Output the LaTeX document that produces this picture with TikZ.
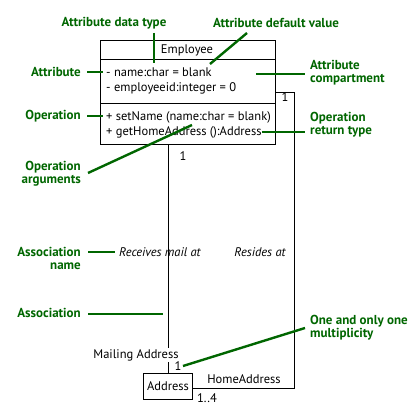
\documentclass[tikz,border=0pt]{standalone}
\usepackage{fontspec}
\setmainfont{PT Sans}
\usetikzlibrary{positioning, calc}
\definecolor{notegreen}{RGB}{0,102,0}

\begin{document}
\begin{tikzpicture}[
			x = 1pt, y = -1pt,
			font = \fontsize{12.5}{13}\selectfont,
			every node/.style = {inner sep=1pt},
			umlbox/.style = {draw, line width=0.9pt, anchor=north west},
			member/.style = {anchor=west},
			mult/.style = {font=\fontsize{12.5}{13}\selectfont},
			assoc/.style = {font=\fontsize{12.5}{13}\itshape\selectfont},
			note/.style = {text=notegreen, font=\fontsize{13}{13}\bfseries\selectfont},
			noteline/.style = {draw=notegreen, line width=2.4pt}
			]
			\useasboundingbox (0,0) rectangle (420,420);
			
			% Define classes
			\node[umlbox, minimum width=175pt, minimum height=104pt] (emp) at (100,40) {};
			\draw[line width=0.9pt] (100,59) -- (275,59);
			\draw[line width=0.9pt] (100,103) -- (275,103);
			\node (empname) at (187,50) {Employee};
			\node[member] (attrname) at (105,72) {- name:char = blank};
			\node[member] (attrid) at (105,88) {- employeeid:integer = 0};
			\node[member] (opset) at (105,117) {+ setName (name:char = blank)};
			\node[member] (opget) at (105,132) {+ getHomeAddress ():Address};
			\node[umlbox, minimum width=49pt, minimum height=26pt] (addr) at (143,373) {};
			\node (addrname) at (addr.center) {Address};
			
			% Define associations
			\draw[line width=0.9pt] (emp.south -| addr.north) -- (addr.north);
			\draw[line width=0.9pt] (emp.east) -- ++(19,0) |- ($(addr.east)+(0,2)$);
			\node[fill=white] (mailrole) at (136,355) {Mailing Address};
			\node (homerole) at (244,379) {HomeAddress};
			\node[assoc, anchor=west] (recv) at (118,252) {Receives mail at};
			\node[assoc] (resides) at (260,252) {Resides at};
			\node[mult] (multemp) at (183,156) {1};
			\node[mult] (multhome) at (285,97) {1};
			\node[mult] (multmail) at (178,366) {1};
			\node[mult] (multaddr) at (207,398) {1..4};
			
			% Define notes
			\node[note] (ndtype) at (114,23) {Attribute data type};
			\node[note] (ndefault) at (276,23) {Attribute default value};
			\node[note, anchor=east] (nattr) at (82,72) {Attribute};
			\node[note, anchor=west, align=left] (ncomp) at (309,73) {Attribute\\compartment};
			\node[note, anchor=east] (nop) at (82,116) {Operation};
			\node[note, anchor=west, align=left] (nret) at (309,125) {Operation\\return type};
			\node[note, anchor=east, align=right] (nargs) at (82,174) {Operation\\arguments};
			\node[note, anchor=east, align=right] (nassocname) at (82,258) {Association\\name};
			\node[note, anchor=east] (nassoc) at (82,313) {Association};
			\node[note, anchor=west, align=left] (nmult) at (309,328) {One and only one\\multiplicity};
			
			% Define pointers
			\draw[noteline] (154,33) -- (154,63);
			\draw[noteline] (247,33) -- (210,64);
			\draw[noteline] (nattr.east) ++(5,0) -- ++(16,0);
			\draw[noteline] (256,74) -- (305,74);
			\draw[noteline] (nop.east) ++(5,0) -- ++(16,0);
			\draw[noteline] (262,132) -- (305,132);
			\draw[noteline] (88,173) -- (192,125);
			\draw[noteline] (88,252) -- (115,252);
			\draw[noteline] (88,314) -- (163,314);
			\draw[noteline] (305,328) -- (183,366);
			
		\end{tikzpicture}
\end{document}
